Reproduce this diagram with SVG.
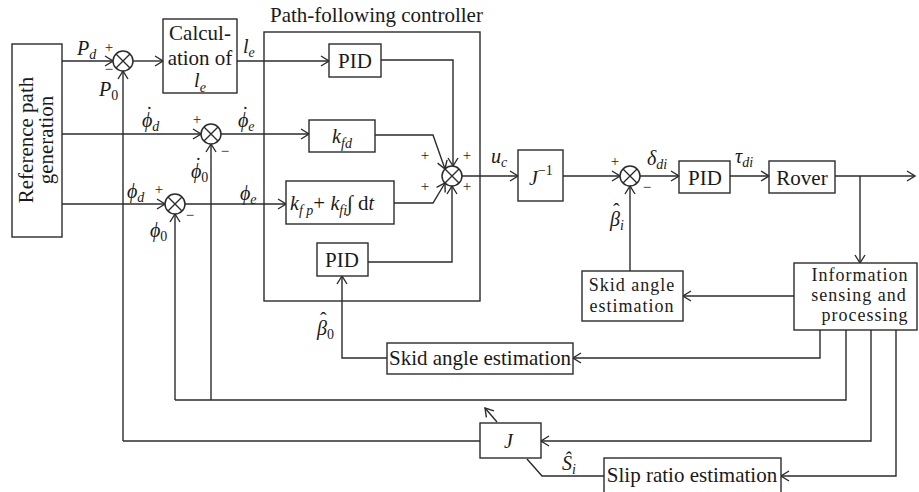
<svg xmlns="http://www.w3.org/2000/svg" width="919" height="492" viewBox="0 0 919 492">
<defs>
<marker id="arr" markerUnits="userSpaceOnUse" markerWidth="12" markerHeight="12" refX="10" refY="6" orient="auto">
<path d="M2,1 L10,6 L2,11" fill="none" stroke="#2b2b2b" stroke-width="1.4"/>
</marker>
</defs>
<style>
.box{fill:#fff;stroke:#2b2b2b;stroke-width:1.4}
.frame{fill:none;stroke:#2b2b2b;stroke-width:1.4}
.ln{fill:none;stroke:#2b2b2b;stroke-width:1.4}
.ar{fill:none;stroke:#2b2b2b;stroke-width:1.4;marker-end:url(#arr)}
.sum circle{fill:#fff;stroke:#2b2b2b;stroke-width:1.5}
.sum path{stroke:#2b2b2b;stroke-width:1.4}
text{font-family:"Liberation Serif","Times New Roman",serif;fill:#1a1a1a}
.t{font-size:21px}
.tc{font-size:21px;text-anchor:middle}
.tm{font-size:18px;text-anchor:middle;letter-spacing:1px}
.m{font-size:20px;font-style:italic}
.s{font-size:14px}
.sg{font-size:15px;text-anchor:middle}
.acc{font-size:20px;font-style:normal}
</style>

<g id="connectors">
<path class="ar" d="M62,61 H113"/>
<path class="ar" d="M62,134 H201"/>
<path class="ar" d="M62,204 H165"/>
<path class="ar" d="M133,61 H163"/>
<path class="ar" d="M237,61 H329"/>
<path class="ar" d="M221,134 H309"/>
<path class="ar" d="M185,204 H286"/>
<path class="ar" d="M381,60 H453 V166"/>
<path class="ar" d="M375,135 H433 L445,169"/>
<path class="ar" d="M394,203 H433 L445,183"/>
<path class="ar" d="M368,262 H452 V186"/>
<path class="ar" d="M462,176 H518"/>
<path class="ar" d="M563,176 H620"/>
<path class="ar" d="M640,176 H679"/>
<path class="ar" d="M730,176 H769"/>
<path class="ar" d="M835,176 H915"/>
<path class="ar" d="M860,176 V263"/>
<path class="ar" d="M794,296 H683"/>
<path class="ar" d="M630,271 V186"/>
<path class="ar" d="M820,330 V358 H573"/>
<path class="ar" d="M387,358 H342 V276"/>
<path class="ln" d="M846,330 V400 H175"/>
<path class="ar" d="M175,400 V214"/>
<path class="ar" d="M211,400 V144"/>
<path class="ar" d="M871,330 V441 H541"/>
<path class="ar" d="M896,330 V476 H781"/>
<path class="ln" d="M480,441 H123"/>
<path class="ar" d="M123,441 V71"/>
<path class="ln" d="M604,476 H542 L527,459"/>
<path class="ar" d="M497,422 L485,408"/>
</g>

<g id="path-controller-frame">
<rect class="frame" x="264" y="32" width="216" height="269"/>
<text class="t" x="270" y="22">Path-following controller</text>
</g>

<g id="ref-gen">
<rect class="box" x="12" y="44" width="50" height="193"/>
<text class="tc" transform="translate(33,140) rotate(-90)">Reference path</text>
<text class="tc" transform="translate(53,140) rotate(-90)">generation</text>
</g>

<g id="sum1" class="sum">
<circle cx="123" cy="61" r="10"/>
<path d="M116,54 L130,68 M130,54 L116,68"/>
</g>
<g id="sum2" class="sum">
<circle cx="211" cy="134" r="10"/>
<path d="M204,127 L218,141 M218,127 L204,141"/>
</g>
<g id="sum3" class="sum">
<circle cx="175" cy="204" r="10"/>
<path d="M168,197 L182,211 M182,197 L168,211"/>
</g>
<g id="sum4" class="sum">
<circle cx="452" cy="176" r="10"/>
<path d="M445,169 L459,183 M459,169 L445,183"/>
</g>
<g id="sum5" class="sum">
<circle cx="630" cy="176" r="10"/>
<path d="M623,169 L637,183 M637,169 L623,183"/>
</g>

<g id="calc">
<rect class="box" x="163" y="19" width="74" height="74"/>
<text class="tc" x="200" y="40">Calcul-</text>
<text class="tc" x="200" y="65">ation of</text>
<text class="tc" x="200" y="87"><tspan class="m">l</tspan><tspan class="s" font-style="italic" dy="5">e</tspan></text>
</g>

<g id="pid-top">
<rect class="box" x="329" y="44" width="52" height="33"/>
<text class="tc" x="355" y="68">PID</text>
</g>
<g id="kfd">
<rect class="box" x="309" y="120" width="66" height="32"/>
<text class="tc" x="342" y="143"><tspan class="m">k</tspan><tspan class="s" font-style="italic" dy="5">fd</tspan></text>
</g>
<g id="kfp">
<rect class="box" x="286" y="181" width="108" height="43"/>
<text x="290" y="210" class="t"><tspan class="m">k</tspan><tspan class="s" font-style="italic" dy="5">f p</tspan><tspan dy="-5">+ </tspan><tspan class="m">k</tspan><tspan class="s" font-style="italic" dy="5">fi</tspan><tspan dy="-5">∫ d</tspan><tspan class="m">t</tspan></text>
</g>
<g id="pid-bottom">
<rect class="box" x="317" y="243" width="51" height="33"/>
<text class="tc" x="342" y="267">PID</text>
</g>
<g id="jinv">
<rect class="box" x="518" y="150" width="45" height="51"/>
<text x="529" y="185"><tspan class="m">J</tspan><tspan class="s" dy="-10">−1</tspan></text>
</g>
<g id="pid-wheel">
<rect class="box" x="679" y="161" width="51" height="32"/>
<text class="tc" x="705" y="185">PID</text>
</g>
<g id="rover">
<rect class="box" x="769" y="161" width="66" height="32"/>
<text class="tc" x="802" y="185">Rover</text>
</g>
<g id="info">
<rect class="box" x="794" y="263" width="123" height="67"/>
<text class="tm" x="860" y="281">Information</text>
<text class="tm" x="859" y="301">sensing and</text>
<text class="tm" x="865" y="321">processing</text>
</g>
<g id="skid-upper">
<rect class="box" x="582" y="271" width="101" height="50"/>
<text class="tm" x="632" y="291">Skid angle</text>
<text class="tm" x="632" y="312">estimation</text>
</g>
<g id="skid-lower">
<rect class="box" x="387" y="343" width="186" height="31"/>
<text class="tc" x="480" y="365">Skid angle estimation</text>
</g>
<g id="jbox">
<rect class="box" x="480" y="423" width="61" height="35"/>
<text class="m" x="504" y="448">J</text>
</g>
<g id="slip">
<rect class="box" x="604" y="458" width="177" height="40"/>
<text class="tc" x="692" y="482">Slip ratio estimation</text>
</g>

<g id="labels">
<text x="77" y="55"><tspan class="m">P</tspan><tspan class="s" font-style="italic" dy="4">d</tspan></text>
<text x="99" y="96"><tspan class="m">P</tspan><tspan class="s" dy="4">0</tspan></text>
<text x="142" y="127"><tspan class="m">ϕ</tspan><tspan class="s" font-style="italic" dy="4">d</tspan><tspan class="acc" x="146" y="121">˙</tspan></text>
<text x="238" y="127"><tspan class="m">ϕ</tspan><tspan class="s" font-style="italic" dy="4">e</tspan><tspan class="acc" x="242" y="121">˙</tspan></text>
<text x="191" y="178"><tspan class="m">ϕ</tspan><tspan class="s" dy="4">0</tspan><tspan class="acc" x="195" y="172">˙</tspan></text>
<text x="127" y="198"><tspan class="m">ϕ</tspan><tspan class="s" font-style="italic" dy="4">d</tspan></text>
<text x="240" y="200"><tspan class="m">ϕ</tspan><tspan class="s" font-style="italic" dy="4">e</tspan></text>
<text x="150" y="237"><tspan class="m">ϕ</tspan><tspan class="s" dy="4">0</tspan></text>
<text x="243" y="53"><tspan class="m">l</tspan><tspan class="s" font-style="italic" dy="4">e</tspan></text>
<text x="491" y="163"><tspan class="m">u</tspan><tspan class="s" font-style="italic" dy="4">c</tspan></text>
<text x="647" y="165"><tspan class="m">δ</tspan><tspan class="s" font-style="italic" dy="4">di</tspan></text>
<text x="735" y="163"><tspan class="m">τ</tspan><tspan class="s" font-style="italic" dy="4">di</tspan></text>
<text x="610" y="226"><tspan class="m">β</tspan><tspan class="s" font-style="italic" dy="4">i</tspan><tspan class="acc" x="613" y="218">ˆ</tspan></text>
<text x="317" y="335"><tspan class="m">β</tspan><tspan class="s" dy="4">0</tspan><tspan class="acc" x="320" y="327">ˆ</tspan></text>
<text x="562" y="470"><tspan class="m">Ŝ</tspan><tspan class="s" font-style="italic" dy="4">i</tspan></text>
<text class="sg" x="109" y="52">+</text>
<text class="sg" x="109" y="74">−</text>
<text class="sg" x="197" y="124">+</text>
<text class="sg" x="225" y="156">−</text>
<text class="sg" x="159" y="194">+</text>
<text class="sg" x="190" y="220">−</text>
<text class="sg" x="425" y="160">+</text>
<text class="sg" x="467" y="160">+</text>
<text class="sg" x="425" y="191">+</text>
<text class="sg" x="467" y="191">+</text>
<text class="sg" x="615" y="166">+</text>
<text class="sg" x="647" y="192">−</text>
</g>
</svg>
